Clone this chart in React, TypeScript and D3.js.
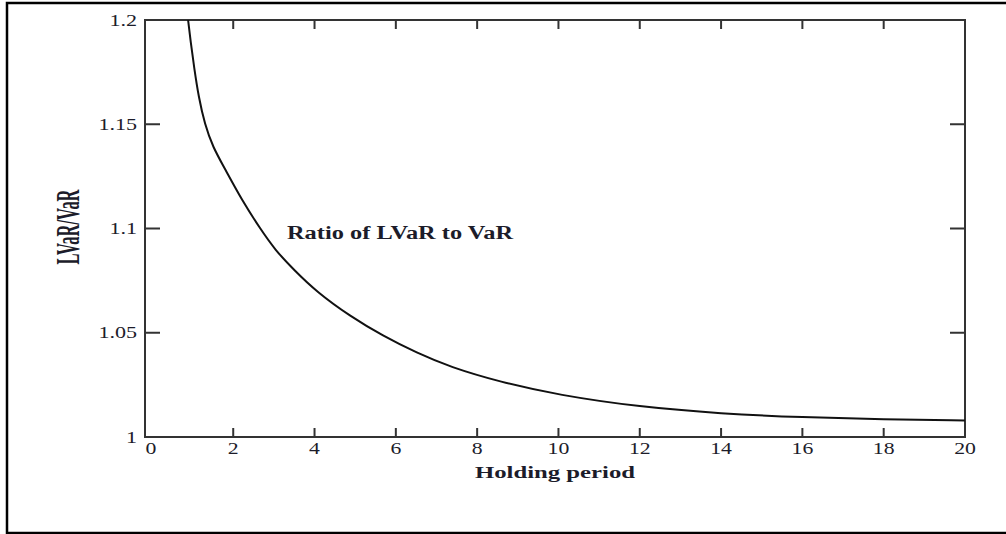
import React from "react";
import * as d3 from "d3";

const holdingPeriod = [0.89, 0.95, 1.04, 1.15, 1.3, 1.5, 1.8, 2.21, 2.66, 3.03, 3.5, 4.06, 4.87, 5.68, 6.52, 7.33, 8.56, 10, 12, 14, 16, 18, 20];
const ratio = [1.2, 1.19, 1.177, 1.163, 1.15, 1.139, 1.1285, 1.1137, 1.1, 1.0897, 1.08, 1.0695, 1.058, 1.0485, 1.0403, 1.0336, 1.0264, 1.0201, 1.0144, 1.0112, 1.0094, 1.0084, 1.0079];
const xTicks = [0, 2, 4, 6, 8, 10, 12, 14, 16, 18, 20];
const yTicks = [1, 1.05, 1.1, 1.15, 1.2];
const yTickLabels = ["1", "1.05", "1.1", "1.15", "1.2"];

const W = 1006;
const H = 534;
const left = 145, right = 965, top = 20, bottom = 437;

export default function App() {
  const x = d3.scaleLinear().domain([-0.17, 20]).range([left, right]);
  const y = d3.scaleLinear().domain([1, 1.2]).range([bottom, top]);
  const pts = holdingPeriod.map((h, i) => [h, ratio[i]] as [number, number]);
  const line = d3
    .line<[number, number]>()
    .x((d) => x(d[0]))
    .y((d) => y(d[1]))
    .curve(d3.curveBasis);
  const serif = "'Liberation Serif', 'Times New Roman', serif";
  const txt = "#1c1c2a";
  return (
    <svg width={W} height={H} style={{ position: "absolute", left: 0, top: 0, background: "#fff" }}>
      {/* outer border */}
      <path d={`M1010,3 H7 V533 H1010`} fill="none" stroke="#000" strokeWidth={2.5} />
      {/* plot frame */}
      <rect x={left} y={top} width={right - left} height={bottom - top} fill="none" stroke="#333" strokeWidth={2} />
      {/* x ticks */}
      {xTicks.slice(1, -1).map((t) => (
        <g key={"xt" + t}>
          <line x1={x(t)} x2={x(t)} y1={bottom} y2={bottom - 9} stroke="#333" strokeWidth={2} />
          <line x1={x(t)} x2={x(t)} y1={top} y2={top + 9} stroke="#333" strokeWidth={2} />
        </g>
      ))}
      {/* y ticks */}
      {yTicks.slice(1, -1).map((t) => (
        <g key={"yt" + t}>
          <line x1={left} x2={left + 15} y1={y(t)} y2={y(t)} stroke="#333" strokeWidth={2} />
          <line x1={right} x2={right - 15} y1={y(t)} y2={y(t)} stroke="#333" strokeWidth={2} />
        </g>
      ))}
      {/* x tick labels */}
      {xTicks.map((t) => (
        <text
          key={"xl" + t}
          transform={`translate(${x(t) - (t === 0 ? 1 : 0)},454) scale(1.36,1)`}
          textAnchor="middle"
          fontFamily={serif}
          fontSize={16}
          fill={txt}
        >
          {String(t)}
        </text>
      ))}
      {/* y tick labels */}
      {yTicks.map((t, i) => (
        <text
          key={"yl" + t}
          transform={`translate(137,${y(t) + 5.5}) scale(1.38,1)`}
          textAnchor="end"
          fontFamily={serif}
          fontSize={16}
          fill={txt}
        >
          {yTickLabels[i]}
        </text>
      ))}
      {/* curve */}
      <path d={line(pts) || ""} fill="none" stroke="#111" strokeWidth={2} />
      {/* annotation */}
      <text x={287} y={239} fontFamily={serif} fontSize={18} fontWeight="bold" fill={txt} textLength={226} lengthAdjust="spacingAndGlyphs">
        Ratio of LVaR to VaR
      </text>
      {/* x axis title */}
      <text x={475} y={478} fontFamily={serif} fontSize={16.5} fontWeight="bold" fill={txt} textLength={160} lengthAdjust="spacingAndGlyphs">
        Holding period
      </text>
      {/* y axis title */}
      <text
        transform={`translate(79,227) rotate(-90) scale(1,2.2)`}
        textAnchor="middle"
        fontFamily={serif}
        fontSize={15.5}
        fontWeight="bold"
        fill={txt}
        textLength={75}
        lengthAdjust="spacingAndGlyphs"
      >
        LVaR/VaR
      </text>
    </svg>
  );
}
